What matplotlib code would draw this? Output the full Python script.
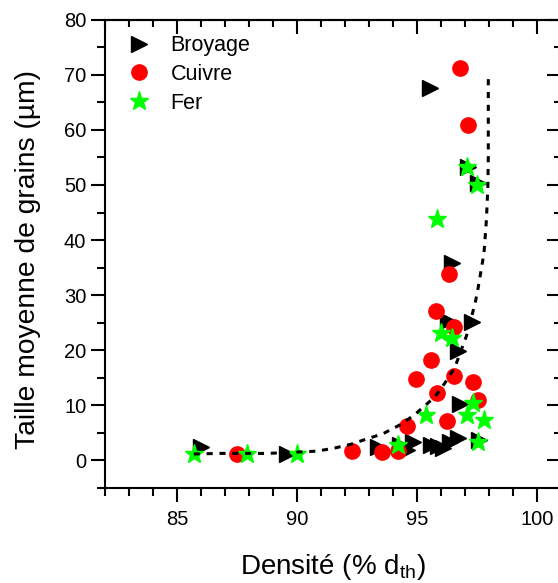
import matplotlib
matplotlib.use('Agg')
import matplotlib.pyplot as plt
from matplotlib.ticker import MultipleLocator

plt.rcParams['font.family'] = ['Liberation Sans', 'DejaVu Sans']
plt.rcParams['mathtext.fontset'] = 'custom'
plt.rcParams['mathtext.rm'] = 'Liberation Sans'

# Broyage (black right triangles)
broyage_x = [86.0, 89.6, 93.4, 94.3, 94.6, 94.85, 95.6, 95.9, 96.1, 96.4, 96.7, 97.6,
             96.8, 96.7, 97.3, 96.3, 96.45, 97.15, 97.55, 95.55]
broyage_y = [2.4, 1.1, 2.4, 2.7, 1.8, 3.3, 2.7, 2.5, 2.2, 3.3, 4.0, 3.6,
             10.2, 19.9, 25.1, 25.3, 35.8, 53.3, 50.4, 67.6]

# Cuivre (red circles)
cuivre_x = [87.5, 92.3, 93.55, 94.2, 94.6, 94.97, 95.6, 95.8, 95.86, 96.27, 96.35,
            96.55, 96.55, 97.36, 97.57, 96.8, 97.15]
cuivre_y = [1.1, 1.7, 1.5, 1.7, 6.2, 14.7, 18.2, 27.1, 12.1, 7.1, 33.9,
            24.2, 15.3, 14.2, 11.0, 71.3, 60.9]

# Fer (green stars)
fer_x = [85.7, 87.9, 90.0, 94.2, 95.4, 96.0, 96.45, 97.1, 97.36, 97.8, 97.57, 95.83, 97.1, 97.5]
fer_y = [1.1, 1.1, 1.1, 2.7, 8.2, 23.1, 22.1, 8.2, 10.3, 7.3, 3.3, 43.9, 53.2, 50.0]

# dotted trend curve
curve_x = [85.7, 86.8, 88.8, 90.8, 91.5, 92.2, 92.9, 93.6, 94.3, 94.9, 95.76, 96.25, 96.6,
           97.08, 97.43, 97.54, 97.68, 97.8, 97.9, 97.96, 97.98, 97.98]
curve_y = [1.1, 1.2, 1.2, 1.6, 2.1, 2.8, 3.8, 4.8, 6.4, 8.2, 11.5, 14.5, 17.0,
           22.7, 28.5, 30.9, 34.5, 37.6, 43.6, 49.4, 55.2, 70.0]

fig = plt.figure(figsize=(5.58, 5.83), dpi=100)
ax = fig.add_axes([0.1882, 0.1638, 0.8167, 0.8019])

ax.plot(broyage_x, broyage_y, linestyle='none', marker='>', color='black', markersize=12, label='Broyage')
ax.plot(cuivre_x, cuivre_y, linestyle='none', marker='o', color='red', markersize=11, label='Cuivre')
ax.plot(fer_x, fer_y, linestyle='none', marker='*', color='#00ff00', markersize=14, label='Fer')
ax.plot(curve_x, curve_y, color='black', linestyle=(0, (2, 2.2)), linewidth=2.2)

ax.set_xlim(82, 101)
ax.set_ylim(-5, 80)
ax.xaxis.set_major_locator(MultipleLocator(5))
ax.xaxis.set_minor_locator(MultipleLocator(1))
ax.yaxis.set_major_locator(MultipleLocator(10))
ax.yaxis.set_minor_locator(MultipleLocator(5))
ax.set_xticks([85, 90, 95, 100])
ax.set_yticks([0, 10, 20, 30, 40, 50, 60, 70, 80])

for s in ax.spines.values():
    s.set_linewidth(1.5)
ax.tick_params(which='both', bottom=True, left=True, top=False, right=False,
               direction='out', width=1.5, labelsize=14.5)
ax.tick_params(axis='x', which='major', pad=6)
ax.tick_params(which='major', length=10)
ax.tick_params(which='minor', length=6)

# mirrored ticks on top/right pointing inward
sx = ax.secondary_xaxis('top')
sx.set_xticks([85, 90, 95, 100])
sx.xaxis.set_minor_locator(MultipleLocator(1))
sx.tick_params(which='both', direction='in', width=1.5, labeltop=False)
sx.tick_params(which='major', length=10)
sx.tick_params(which='minor', length=5)
sx.spines['top'].set_linewidth(1.5)
sy = ax.secondary_yaxis('right')
sy.set_yticks([0, 10, 20, 30, 40, 50, 60, 70, 80])
sy.yaxis.set_minor_locator(MultipleLocator(5))
sy.tick_params(which='both', direction='in', width=1.5, labelright=False)
sy.tick_params(which='major', length=10)
sy.tick_params(which='minor', length=5)

ax.set_xlabel('Densité (% d$_\\mathrm{th}$)', fontsize=20, labelpad=17)
ax.set_ylabel('Taille moyenne de grains (µm)', fontsize=20.3)
ax.yaxis.set_label_coords(-0.140, 0.487)

ax.legend(loc='upper left', bbox_to_anchor=(0.007, 1.0), frameon=False, fontsize=15.5,
          handletextpad=0.7, labelspacing=0.37, borderaxespad=0.3, handlelength=1.5)

fig.savefig('out.png', dpi=100)
